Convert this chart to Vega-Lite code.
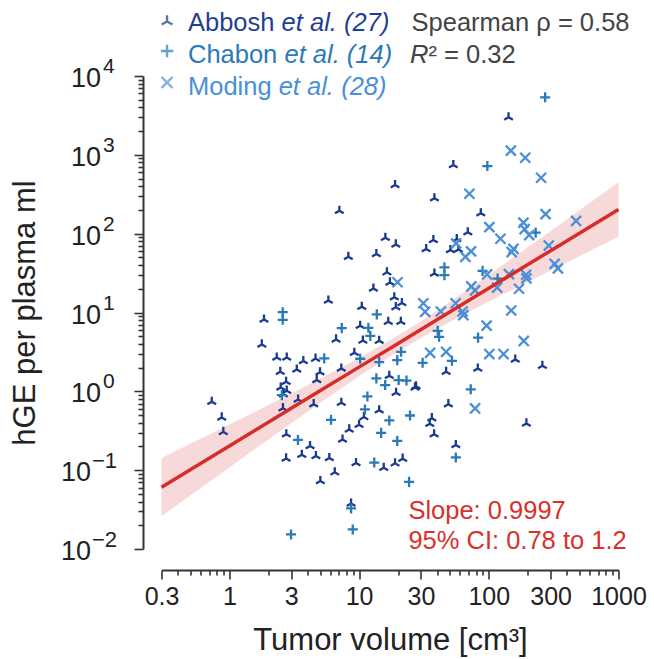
{
  "$schema": "https://vega.github.io/schema/vega-lite/v6.json",
  "width": 457,
  "height": 473,
  "autosize": {"type": "none"},
  "padding": {"left": 161.5, "top": 76, "right": 35.5, "bottom": 110},
  "background": "white",
  "config": {"view": {"stroke": null}, "font": "Liberation Sans"},
  "datasets": {
    "yt": [
      {"v": 10000, "e": "4"},
      {"v": 1000, "e": "3"},
      {"v": 100, "e": "2"},
      {"v": 10, "e": "1"},
      {"v": 1, "e": "0"},
      {"v": 0.1, "e": "−1"},
      {"v": 0.01, "e": "−2"}
    ],
    "fit": [
      {"x": 0.3, "fit": 0.0608, "lo": 0.026, "hi": 0.1422},
      {"x": 0.5, "fit": 0.1014, "lo": 0.0476, "hi": 0.2158},
      {"x": 1, "fit": 0.2028, "lo": 0.1084, "hi": 0.3793},
      {"x": 2, "fit": 0.4055, "lo": 0.2449, "hi": 0.6714},
      {"x": 3, "fit": 0.6081, "lo": 0.3936, "hi": 0.9397},
      {"x": 5, "fit": 1.014, "lo": 0.7112, "hi": 1.4454},
      {"x": 10, "fit": 2.028, "lo": 1.552, "hi": 2.649},
      {"x": 20, "fit": 4.055, "lo": 3.221, "hi": 5.105},
      {"x": 30, "fit": 6.081, "lo": 4.764, "hi": 7.762},
      {"x": 50, "fit": 10.14, "lo": 7.568, "hi": 13.58},
      {"x": 100, "fit": 20.28, "lo": 13.74, "hi": 29.92},
      {"x": 200, "fit": 40.55, "lo": 24.49, "hi": 67.14},
      {"x": 300, "fit": 60.81, "lo": 34.2, "hi": 108.1},
      {"x": 500, "fit": 101.4, "lo": 51.88, "hi": 198.2},
      {"x": 1000, "fit": 202.8, "lo": 91.41, "hi": 449.8}
    ],
    "pts": [
      {"study": "Abbosh", "volume": 18.95, "hge": 414},
      {"study": "Abbosh", "volume": 7.05, "hge": 195},
      {"study": "Abbosh", "volume": 15.95, "hge": 88.7},
      {"study": "Abbosh", "volume": 19.2, "hge": 73.1},
      {"study": "Abbosh", "volume": 8.27, "hge": 50.9},
      {"study": "Abbosh", "volume": 13.6, "hge": 55.1},
      {"study": "Abbosh", "volume": 16.4, "hge": 32.3},
      {"study": "Abbosh", "volume": 17.3, "hge": 24.1},
      {"study": "Abbosh", "volume": 12.9, "hge": 20.2},
      {"study": "Abbosh", "volume": 5.8, "hge": 14.2},
      {"study": "Abbosh", "volume": 18.7, "hge": 15.6},
      {"study": "Abbosh", "volume": 21.4, "hge": 13.2},
      {"study": "Abbosh", "volume": 10.5, "hge": 11.8},
      {"study": "Abbosh", "volume": 19.2, "hge": 11.7},
      {"study": "Abbosh", "volume": 16.8, "hge": 7.62},
      {"study": "Abbosh", "volume": 21.0, "hge": 7.62},
      {"study": "Abbosh", "volume": 10.2, "hge": 6.78},
      {"study": "Abbosh", "volume": 142, "hge": 2990},
      {"study": "Abbosh", "volume": 53.3, "hge": 742},
      {"study": "Abbosh", "volume": 38.1, "hge": 281},
      {"study": "Abbosh", "volume": 86.8, "hge": 181},
      {"study": "Abbosh", "volume": 68.9, "hge": 104},
      {"study": "Abbosh", "volume": 37.4, "hge": 82.9},
      {"study": "Abbosh", "volume": 32.9, "hge": 63.8},
      {"study": "Abbosh", "volume": 56.7, "hge": 85.4},
      {"study": "Abbosh", "volume": 50.6, "hge": 61.9},
      {"study": "Abbosh", "volume": 58.3, "hge": 62.8},
      {"study": "Abbosh", "volume": 38.1, "hge": 31.3},
      {"study": "Abbosh", "volume": 160, "hge": 2.53},
      {"study": "Abbosh", "volume": 259, "hge": 2.11},
      {"study": "Abbosh", "volume": 82.3, "hge": 1.95},
      {"study": "Abbosh", "volume": 46.9, "hge": 1.77},
      {"study": "Abbosh", "volume": 27.0, "hge": 1.12},
      {"study": "Abbosh", "volume": 48.8, "hge": 0.688},
      {"study": "Abbosh", "volume": 36.4, "hge": 0.457},
      {"study": "Abbosh", "volume": 35.1, "hge": 0.389},
      {"study": "Abbosh", "volume": 37.9, "hge": 0.286},
      {"study": "Abbosh", "volume": 195, "hge": 0.392},
      {"study": "Abbosh", "volume": 55.7, "hge": 0.208},
      {"study": "Abbosh", "volume": 21.7, "hge": 0.14},
      {"study": "Abbosh", "volume": 6.65, "hge": 4.56},
      {"study": "Abbosh", "volume": 10.7, "hge": 4.4},
      {"study": "Abbosh", "volume": 14.3, "hge": 4.37},
      {"study": "Abbosh", "volume": 2.77, "hge": 2.68},
      {"study": "Abbosh", "volume": 3.72, "hge": 2.42},
      {"study": "Abbosh", "volume": 4.62, "hge": 2.6},
      {"study": "Abbosh", "volume": 9.2, "hge": 3.08},
      {"study": "Abbosh", "volume": 3.31, "hge": 1.89},
      {"study": "Abbosh", "volume": 5.0, "hge": 1.75},
      {"study": "Abbosh", "volume": 7.3, "hge": 1.95},
      {"study": "Abbosh", "volume": 4.72, "hge": 1.39},
      {"study": "Abbosh", "volume": 2.47, "hge": 1.77},
      {"study": "Abbosh", "volume": 17.1, "hge": 1.58},
      {"study": "Abbosh", "volume": 27.5, "hge": 1.16},
      {"study": "Abbosh", "volume": 2.74, "hge": 1.32},
      {"study": "Abbosh", "volume": 2.49, "hge": 1.12},
      {"study": "Abbosh", "volume": 2.77, "hge": 1.02},
      {"study": "Abbosh", "volume": 2.61, "hge": 0.921},
      {"study": "Abbosh", "volume": 19.3, "hge": 0.957},
      {"study": "Abbosh", "volume": 3.39, "hge": 0.789},
      {"study": "Abbosh", "volume": 4.47, "hge": 0.688},
      {"study": "Abbosh", "volume": 7.3, "hge": 0.715},
      {"study": "Abbosh", "volume": 2.59, "hge": 0.612},
      {"study": "Abbosh", "volume": 14.3, "hge": 0.577},
      {"study": "Abbosh", "volume": 10.9, "hge": 0.471},
      {"study": "Abbosh", "volume": 10.0, "hge": 0.376},
      {"study": "Abbosh", "volume": 8.4, "hge": 0.329},
      {"study": "Abbosh", "volume": 7.46, "hge": 0.245},
      {"study": "Abbosh", "volume": 2.75, "hge": 0.286},
      {"study": "Abbosh", "volume": 4.19, "hge": 0.202},
      {"study": "Abbosh", "volume": 3.62, "hge": 0.157},
      {"study": "Abbosh", "volume": 4.65, "hge": 0.151},
      {"study": "Abbosh", "volume": 5.9, "hge": 0.143},
      {"study": "Abbosh", "volume": 2.74, "hge": 0.141},
      {"study": "Abbosh", "volume": 9.48, "hge": 0.123},
      {"study": "Abbosh", "volume": 15.5, "hge": 0.107},
      {"study": "Abbosh", "volume": 18.95, "hge": 0.122},
      {"study": "Abbosh", "volume": 6.5, "hge": 0.0938},
      {"study": "Abbosh", "volume": 5.03, "hge": 0.0729},
      {"study": "Abbosh", "volume": 8.68, "hge": 0.0378},
      {"study": "Abbosh", "volume": 0.732, "hge": 0.736},
      {"study": "Abbosh", "volume": 0.874, "hge": 0.467},
      {"study": "Abbosh", "volume": 0.899, "hge": 0.306},
      {"study": "Abbosh", "volume": 1.85, "hge": 8.17},
      {"study": "Abbosh", "volume": 1.78, "hge": 3.94},
      {"study": "Abbosh", "volume": 2.32, "hge": 2.69},
      {"study": "Chabon", "volume": 272, "hge": 5370},
      {"study": "Chabon", "volume": 97.5, "hge": 721},
      {"study": "Chabon", "volume": 230, "hge": 103},
      {"study": "Chabon", "volume": 45.5, "hge": 37.4},
      {"study": "Chabon", "volume": 45.5, "hge": 29.8},
      {"study": "Chabon", "volume": 89.6, "hge": 33.7},
      {"study": "Chabon", "volume": 117, "hge": 26.9},
      {"study": "Chabon", "volume": 2.58, "hge": 10.1},
      {"study": "Chabon", "volume": 2.58, "hge": 8.08},
      {"study": "Chabon", "volume": 13.7, "hge": 9.46},
      {"study": "Chabon", "volume": 11.8, "hge": 6.39},
      {"study": "Chabon", "volume": 7.36, "hge": 6.34},
      {"study": "Chabon", "volume": 40.4, "hge": 5.86},
      {"study": "Chabon", "volume": 41.4, "hge": 4.92},
      {"study": "Chabon", "volume": 82.7, "hge": 4.8},
      {"study": "Chabon", "volume": 21.1, "hge": 3.17},
      {"study": "Chabon", "volume": 52.0, "hge": 2.44},
      {"study": "Chabon", "volume": 30.9, "hge": 2.3},
      {"study": "Chabon", "volume": 23.2, "hge": 1.37},
      {"study": "Chabon", "volume": 72.6, "hge": 1.06},
      {"study": "Chabon", "volume": 24.7, "hge": 0.494},
      {"study": "Chabon", "volume": 55.7, "hge": 0.145},
      {"study": "Chabon", "volume": 24.3, "hge": 0.071},
      {"study": "Chabon", "volume": 12.2, "hge": 5.05},
      {"study": "Chabon", "volume": 5.39, "hge": 2.62},
      {"study": "Chabon", "volume": 10.2, "hge": 2.59},
      {"study": "Chabon", "volume": 14.3, "hge": 2.35},
      {"study": "Chabon", "volume": 19.7, "hge": 2.49},
      {"study": "Chabon", "volume": 13.6, "hge": 1.46},
      {"study": "Chabon", "volume": 15.9, "hge": 1.2},
      {"study": "Chabon", "volume": 20.2, "hge": 1.39},
      {"study": "Chabon", "volume": 2.54, "hge": 0.895},
      {"study": "Chabon", "volume": 11.6, "hge": 0.862},
      {"study": "Chabon", "volume": 11.1, "hge": 0.589},
      {"study": "Chabon", "volume": 6.08, "hge": 0.435},
      {"study": "Chabon", "volume": 17.1, "hge": 0.427},
      {"study": "Chabon", "volume": 14.8, "hge": 0.297},
      {"study": "Chabon", "volume": 3.38, "hge": 0.242},
      {"study": "Chabon", "volume": 19.7, "hge": 0.235},
      {"study": "Chabon", "volume": 13.1, "hge": 0.125},
      {"study": "Chabon", "volume": 8.68, "hge": 0.0327},
      {"study": "Chabon", "volume": 8.94, "hge": 0.0177},
      {"study": "Chabon", "volume": 2.99, "hge": 0.0153},
      {"study": "Moding", "volume": 148, "hge": 1130},
      {"study": "Moding", "volume": 191, "hge": 919},
      {"study": "Moding", "volume": 253, "hge": 512},
      {"study": "Moding", "volume": 70.9, "hge": 321},
      {"study": "Moding", "volume": 274, "hge": 177},
      {"study": "Moding", "volume": 471, "hge": 145},
      {"study": "Moding", "volume": 185, "hge": 138},
      {"study": "Moding", "volume": 101, "hge": 121},
      {"study": "Moding", "volume": 189, "hge": 114},
      {"study": "Moding", "volume": 205, "hge": 96.0},
      {"study": "Moding", "volume": 123, "hge": 86.2},
      {"study": "Moding", "volume": 56.0, "hge": 75.3},
      {"study": "Moding", "volume": 73.0, "hge": 59.6},
      {"study": "Moding", "volume": 66.0, "hge": 50.9},
      {"study": "Moding", "volume": 155, "hge": 64.3},
      {"study": "Moding", "volume": 150, "hge": 58.4},
      {"study": "Moding", "volume": 290, "hge": 70.6},
      {"study": "Moding", "volume": 322, "hge": 41.4},
      {"study": "Moding", "volume": 341, "hge": 36.3},
      {"study": "Moding", "volume": 97.0, "hge": 30.4},
      {"study": "Moding", "volume": 194, "hge": 30.1},
      {"study": "Moding", "volume": 195, "hge": 27.1},
      {"study": "Moding", "volume": 73.3, "hge": 21.4},
      {"study": "Moding", "volume": 78.4, "hge": 19.1},
      {"study": "Moding", "volume": 116, "hge": 20.7},
      {"study": "Moding", "volume": 171, "hge": 20.0},
      {"study": "Moding", "volume": 19.8, "hge": 24.2},
      {"study": "Moding", "volume": 31.3, "hge": 13.1},
      {"study": "Moding", "volume": 32.3, "hge": 10.2},
      {"study": "Moding", "volume": 42.7, "hge": 10.3},
      {"study": "Moding", "volume": 55.5, "hge": 13.1},
      {"study": "Moding", "volume": 62.8, "hge": 10.3},
      {"study": "Moding", "volume": 63.7, "hge": 9.27},
      {"study": "Moding", "volume": 149, "hge": 10.6},
      {"study": "Moding", "volume": 96.2, "hge": 6.82},
      {"study": "Moding", "volume": 186, "hge": 4.36},
      {"study": "Moding", "volume": 35.3, "hge": 3.08},
      {"study": "Moding", "volume": 46.9, "hge": 3.17},
      {"study": "Moding", "volume": 101, "hge": 2.97},
      {"study": "Moding", "volume": 130, "hge": 2.97},
      {"study": "Moding", "volume": 78.4, "hge": 0.607},
      {"study": "Moding", "volume": 143, "hge": 30.7}
    ]
  },
  "layer": [
    {
      "data": {"name": "fit"},
      "mark": {"type": "area", "color": "#d62d2a", "opacity": 0.18},
      "encoding": {
        "x": {
          "field": "x", "type": "quantitative",
          "scale": {"type": "log", "domain": [0.3, 1000], "nice": false},
          "title": "Tumor volume [cm³]",
          "axis": {
            "values": [0.3,0.4,0.5,0.6,0.7,0.8,0.9,1,2,3,4,5,6,7,8,9,10,20,30,40,50,60,70,80,90,100,200,300,400,500,600,700,800,900,1000],
            "labelExpr": "indexof([0.3,1,3,10,30,100,300,1000], datum.value) >= 0 ? format(datum.value, '~g') : ''",
            "tickSize": {"condition": {"test": "indexof([0.3,1,3,10,30,100,300,1000], datum.value) >= 0", "value": 9}, "value": 5},
            "offset": 21,
            "grid": false,
            "domainColor": "#333333", "domainWidth": 2,
            "tickColor": "#333333", "tickWidth": 1.6,
            "labelFontSize": 25, "labelColor": "#222222", "labelPadding": 5,
            "labelOverlap": false, "labelFlush": false, "labelBound": false,
            "titleFontSize": 31, "titleFontWeight": "normal", "titleColor": "#222222", "titlePadding": 16
          }
        },
        "y": {
          "field": "lo", "type": "quantitative",
          "scale": {"type": "log", "domain": [0.01, 10000], "nice": false},
          "title": "hGE per plasma ml",
          "axis": {
            "values": [0.01,0.02,0.03,0.04,0.05,0.06,0.07,0.08,0.09,0.1,0.2,0.3,0.4,0.5,0.6,0.7,0.8,0.9,1,2,3,4,5,6,7,8,9,10,20,30,40,50,60,70,80,90,100,200,300,400,500,600,700,800,900,1000,2000,3000,4000,5000,6000,7000,8000,9000,10000],
            "labels": false,
            "tickSize": {"condition": {"test": "indexof([0.01,0.1,1,10,100,1000,10000], datum.value) >= 0", "value": 9}, "value": 5},
            "offset": 18.5,
            "grid": false,
            "domainColor": "#333333", "domainWidth": 2,
            "tickColor": "#333333", "tickWidth": 1.6,
            "titleFontSize": 31, "titleFontWeight": "normal", "titleColor": "#222222", "titlePadding": 92
          }
        },
        "y2": {"field": "hi"}
      }
    },
    {
      "data": {"name": "yt"},
      "transform": [{"filter": "datum.v >= 1"}],
      "mark": {"type": "text", "text": "10", "align": "right", "baseline": "middle", "dy": 3, "fontSize": 27, "color": "#222222"},
      "encoding": {
        "x": {"datum": 0.1025, "type": "quantitative", "title": "Tumor volume [cm³]"},
        "y": {"field": "v", "type": "quantitative", "title": "hGE per plasma ml"}
      }
    },
    {
      "data": {"name": "yt"},
      "transform": [{"filter": "datum.v >= 1"}],
      "mark": {"type": "text", "align": "left", "baseline": "middle", "dy": -9, "fontSize": 21, "color": "#222222"},
      "encoding": {
        "x": {"datum": 0.1062, "type": "quantitative", "title": "Tumor volume [cm³]"},
        "y": {"field": "v", "type": "quantitative", "title": "hGE per plasma ml"},
        "text": {"field": "e", "type": "nominal"}
      }
    },
    {
      "data": {"name": "yt"},
      "transform": [{"filter": "datum.v < 1"}],
      "mark": {"type": "text", "text": "10", "align": "right", "baseline": "middle", "dy": 3, "fontSize": 27, "color": "#222222"},
      "encoding": {
        "x": {"datum": 0.0859, "type": "quantitative", "title": "Tumor volume [cm³]"},
        "y": {"field": "v", "type": "quantitative", "title": "hGE per plasma ml"}
      }
    },
    {
      "data": {"name": "yt"},
      "transform": [{"filter": "datum.v < 1"}],
      "mark": {"type": "text", "align": "left", "baseline": "middle", "dy": -9, "fontSize": 22, "color": "#222222"},
      "encoding": {
        "x": {"datum": 0.0874, "type": "quantitative", "title": "Tumor volume [cm³]"},
        "y": {"field": "v", "type": "quantitative", "title": "hGE per plasma ml"},
        "text": {"field": "e", "type": "nominal"}
      }
    },
    {
      "data": {"name": "pts"},
      "mark": {"type": "point", "filled": false, "strokeWidth": 2.3, "opacity": 1, "size": 125},
      "encoding": {
        "x": {"field": "volume", "type": "quantitative", "title": "Tumor volume [cm³]", "scale": {"type": "log", "domain": [0.3, 1000], "nice": false}},
        "y": {"field": "hge", "type": "quantitative", "title": "hGE per plasma ml", "scale": {"type": "log", "domain": [0.01, 10000], "nice": false}},
        "color": {"field": "study", "type": "nominal", "scale": {"domain": ["Abbosh", "Chabon", "Moding"], "range": ["#1a3a8f", "#2a7ab8", "#4a8fd8"]}, "legend": null},
        "shape": {"field": "study", "type": "nominal", "scale": {"domain": ["Abbosh", "Chabon", "Moding"], "range": ["M0,0L0,-0.9M0,0L-0.78,0.45M0,0L0.78,0.45", "M-0.9,0L0.9,0M0,-0.9L0,0.9", "M-0.9,-0.9L0.9,0.9M-0.9,0.9L0.9,-0.9"]}, "legend": null}
      }
    },
    {
      "data": {"name": "fit"},
      "mark": {"type": "line", "color": "#d62d2a", "strokeWidth": 3.5},
      "encoding": {
        "x": {"field": "x", "type": "quantitative", "title": "Tumor volume [cm³]"},
        "y": {"field": "fit", "type": "quantitative", "title": "hGE per plasma ml"}
      }
    },
    {
      "data": {"values": [{}]},
      "mark": {"type": "point", "filled": false, "strokeWidth": 2.4, "size": 190, "color": "#1a3a8f", "shape": "M0,0L0,-0.9M0,0L-0.78,0.45M0,0L0.78,0.45"},
      "encoding": {
        "x": {"datum": 0.331, "type": "quantitative", "title": "Tumor volume [cm³]"},
        "y": {"datum": 49160, "type": "quantitative", "title": "hGE per plasma ml"}
      }
    },
    {
      "data": {"values": [{}]},
      "mark": {"type": "point", "filled": false, "strokeWidth": 2.4, "size": 190, "color": "#2a7ab8", "shape": "M-0.9,0L0.9,0M0,-0.9L0,0.9"},
      "encoding": {
        "x": {"datum": 0.331, "type": "quantitative", "title": "Tumor volume [cm³]"},
        "y": {"datum": 20770, "type": "quantitative", "title": "hGE per plasma ml"}
      }
    },
    {
      "data": {"values": [{}]},
      "mark": {"type": "point", "filled": false, "strokeWidth": 2.4, "size": 150, "color": "#4a8fd8", "shape": "M-0.9,-0.9L0.9,0.9M-0.9,0.9L0.9,-0.9"},
      "encoding": {
        "x": {"datum": 0.331, "type": "quantitative", "title": "Tumor volume [cm³]"},
        "y": {"datum": 8270, "type": "quantitative", "title": "hGE per plasma ml"}
      }
    },
    {
      "data": {"values": [{}]},
      "mark": {"type": "text", "text": "Abbosh", "align": "left", "baseline": "alphabetic", "fontSize": 25.5, "color": "#1f3f94"},
      "encoding": {"x": {"datum": 0.48, "type": "quantitative", "title": "Tumor volume [cm³]"}, "y": {"datum": 37240, "type": "quantitative", "title": "hGE per plasma ml"}}
    },
    {
      "data": {"values": [{}]},
      "mark": {"type": "text", "text": "et al.", "fontStyle": "italic", "align": "left", "baseline": "alphabetic", "fontSize": 25.5, "color": "#1f3f94"},
      "encoding": {"x": {"datum": 2.53, "type": "quantitative", "title": "Tumor volume [cm³]"}, "y": {"datum": 37240, "type": "quantitative", "title": "hGE per plasma ml"}}
    },
    {
      "data": {"values": [{}]},
      "mark": {"type": "text", "text": "(27)", "fontStyle": "italic", "align": "left", "baseline": "alphabetic", "fontSize": 25.5, "color": "#1f3f94"},
      "encoding": {"x": {"datum": 7.66, "type": "quantitative", "title": "Tumor volume [cm³]"}, "y": {"datum": 37240, "type": "quantitative", "title": "hGE per plasma ml"}}
    },
    {
      "data": {"values": [{}]},
      "mark": {"type": "text", "text": "Chabon", "align": "left", "baseline": "alphabetic", "fontSize": 25.5, "color": "#2a7ab8"},
      "encoding": {"x": {"datum": 0.48, "type": "quantitative", "title": "Tumor volume [cm³]"}, "y": {"datum": 14620, "type": "quantitative", "title": "hGE per plasma ml"}}
    },
    {
      "data": {"values": [{}]},
      "mark": {"type": "text", "text": "et al.", "fontStyle": "italic", "align": "left", "baseline": "alphabetic", "fontSize": 25.5, "color": "#2a7ab8"},
      "encoding": {"x": {"datum": 2.66, "type": "quantitative", "title": "Tumor volume [cm³]"}, "y": {"datum": 14620, "type": "quantitative", "title": "hGE per plasma ml"}}
    },
    {
      "data": {"values": [{}]},
      "mark": {"type": "text", "text": "(14)", "fontStyle": "italic", "align": "left", "baseline": "alphabetic", "fontSize": 25.5, "color": "#2a7ab8"},
      "encoding": {"x": {"datum": 8.05, "type": "quantitative", "title": "Tumor volume [cm³]"}, "y": {"datum": 14620, "type": "quantitative", "title": "hGE per plasma ml"}}
    },
    {
      "data": {"values": [{}]},
      "mark": {"type": "text", "text": "Moding", "align": "left", "baseline": "alphabetic", "fontSize": 25.5, "color": "#4a8fd8"},
      "encoding": {"x": {"datum": 0.48, "type": "quantitative", "title": "Tumor volume [cm³]"}, "y": {"datum": 5825, "type": "quantitative", "title": "hGE per plasma ml"}}
    },
    {
      "data": {"values": [{}]},
      "mark": {"type": "text", "text": "et al.", "fontStyle": "italic", "align": "left", "baseline": "alphabetic", "fontSize": 25.5, "color": "#4a8fd8"},
      "encoding": {"x": {"datum": 2.4, "type": "quantitative", "title": "Tumor volume [cm³]"}, "y": {"datum": 5825, "type": "quantitative", "title": "hGE per plasma ml"}}
    },
    {
      "data": {"values": [{}]},
      "mark": {"type": "text", "text": "(28)", "fontStyle": "italic", "align": "left", "baseline": "alphabetic", "fontSize": 25.5, "color": "#4a8fd8"},
      "encoding": {"x": {"datum": 7.28, "type": "quantitative", "title": "Tumor volume [cm³]"}, "y": {"datum": 5825, "type": "quantitative", "title": "hGE per plasma ml"}}
    },
    {
      "data": {"values": [{}]},
      "mark": {"type": "text", "text": "Spearman ρ = 0.58", "align": "left", "baseline": "alphabetic", "fontSize": 25.5, "color": "#444444"},
      "encoding": {"x": {"datum": 25.4, "type": "quantitative", "title": "Tumor volume [cm³]"}, "y": {"datum": 37240, "type": "quantitative", "title": "hGE per plasma ml"}}
    },
    {
      "data": {"values": [{}]},
      "mark": {"type": "text", "text": "R", "fontStyle": "italic", "align": "left", "baseline": "alphabetic", "fontSize": 25.5, "color": "#444444"},
      "encoding": {"x": {"datum": 24.7, "type": "quantitative", "title": "Tumor volume [cm³]"}, "y": {"datum": 14620, "type": "quantitative", "title": "hGE per plasma ml"}}
    },
    {
      "data": {"values": [{}]},
      "mark": {"type": "text", "text": "² = 0.32", "align": "left", "baseline": "alphabetic", "fontSize": 25.5, "color": "#444444"},
      "encoding": {"x": {"datum": 34.3, "type": "quantitative", "title": "Tumor volume [cm³]"}, "y": {"datum": 14620, "type": "quantitative", "title": "hGE per plasma ml"}}
    },
    {
      "data": {"values": [{}]},
      "mark": {"type": "text", "text": "Slope: 0.9997", "align": "left", "baseline": "alphabetic", "fontSize": 25.5, "color": "#d9302b"},
      "encoding": {"x": {"datum": 24, "type": "quantitative", "title": "Tumor volume [cm³]"}, "y": {"datum": 0.02424, "type": "quantitative", "title": "hGE per plasma ml"}}
    },
    {
      "data": {"values": [{}]},
      "mark": {"type": "text", "text": "95% CI: 0.78 to 1.2", "align": "left", "baseline": "alphabetic", "fontSize": 25.5, "color": "#d9302b"},
      "encoding": {"x": {"datum": 24, "type": "quantitative", "title": "Tumor volume [cm³]"}, "y": {"datum": 0.00994, "type": "quantitative", "title": "hGE per plasma ml"}}
    }
  ]
}
